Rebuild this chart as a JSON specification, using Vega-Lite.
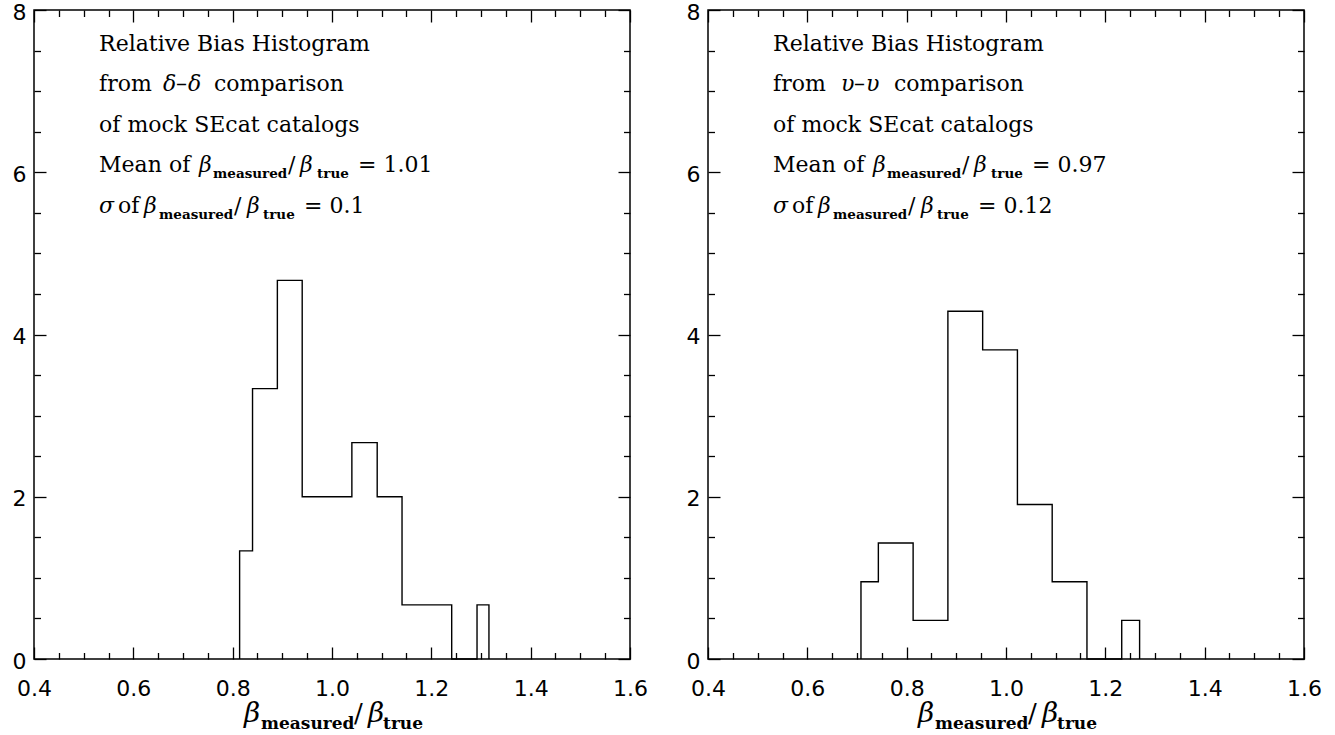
{
  "$schema": "https://vega.github.io/schema/vega-lite/v6.json",
  "padding": {"left": 8, "top": 0, "right": 0, "bottom": 0},
  "spacing": 33,
  "background": "white",
  "config": {
    "view": {"stroke": "#000", "strokeWidth": 1.5},
    "axis": {"grid": false, "domain": false, "tickColor": "#000", "tickWidth": 1.3, "title": null, "labelFont": "DejaVu Sans", "labelFontSize": 22, "labelColor": "#000", "labelFlush": false, "labelOverlap": false}
  },
  "datasets": {
    "histL": [
      {"x": 0.814, "y": 0}, {"x": 0.814, "y": 1.333}, {"x": 0.840, "y": 3.333}, {"x": 0.890, "y": 4.667},
      {"x": 0.940, "y": 2}, {"x": 0.990, "y": 2}, {"x": 1.040, "y": 2.667}, {"x": 1.091, "y": 2},
      {"x": 1.141, "y": 0.667}, {"x": 1.191, "y": 0.667}, {"x": 1.241, "y": 0}, {"x": 1.292, "y": 0.667},
      {"x": 1.316, "y": 0}
    ],
    "histR": [
      {"x": 0.708, "y": 0}, {"x": 0.708, "y": 0.952}, {"x": 0.743, "y": 1.429}, {"x": 0.813, "y": 0.476},
      {"x": 0.883, "y": 4.286}, {"x": 0.953, "y": 3.810}, {"x": 1.023, "y": 1.905}, {"x": 1.093, "y": 0.952},
      {"x": 1.163, "y": 0}, {"x": 1.233, "y": 0.476}, {"x": 1.269, "y": 0}
    ],
    "txtL": [
      {"x": 0.531, "y": 7.5, "t": "Relative Bias Histogram"},
      {"x": 0.531, "y": 7.0, "t": "from"},
      {"x": 0.686, "y": 7.0, "t": "–"},
      {"x": 0.7625, "y": 7.0, "t": "comparison"},
      {"x": 0.531, "y": 6.5, "t": "of mock SEcat catalogs"},
      {"x": 0.531, "y": 6.0, "t": "Mean of"},
      {"x": 0.9115, "y": 6.0, "t": "/"},
      {"x": 1.0524, "y": 6.0, "t": "= 1.01"},
      {"x": 0.5691, "y": 5.5, "t": "of"},
      {"x": 0.8027, "y": 5.5, "t": "/"},
      {"x": 0.9437, "y": 5.5, "t": "= 0.1"}
    ],
    "txtR": [
      {"x": 0.531, "y": 7.5, "t": "Relative Bias Histogram"},
      {"x": 0.531, "y": 7.0, "t": "from"},
      {"x": 0.694, "y": 7.0, "t": "–"},
      {"x": 0.7745, "y": 7.0, "t": "comparison"},
      {"x": 0.531, "y": 6.5, "t": "of mock SEcat catalogs"},
      {"x": 0.531, "y": 6.0, "t": "Mean of"},
      {"x": 0.9115, "y": 6.0, "t": "/"},
      {"x": 1.0524, "y": 6.0, "t": "= 0.97"},
      {"x": 0.5691, "y": 5.5, "t": "of"},
      {"x": 0.8027, "y": 5.5, "t": "/"},
      {"x": 0.9437, "y": 5.5, "t": "= 0.12"}
    ],
    "grkL": [
      {"x": 0.6598, "y": 7.0, "t": "δ"},
      {"x": 0.7101, "y": 7.0, "t": "δ"},
      {"x": 0.7323, "y": 6.0, "t": "β"},
      {"x": 0.9356, "y": 6.0, "t": "β"},
      {"x": 0.531, "y": 5.5, "t": "σ"},
      {"x": 0.6215, "y": 5.5, "t": "β"},
      {"x": 0.8289, "y": 5.5, "t": "β"}
    ],
    "grkR": [
      {"x": 0.6678, "y": 7.0, "t": "υ"},
      {"x": 0.7182, "y": 7.0, "t": "υ"},
      {"x": 0.7323, "y": 6.0, "t": "β"},
      {"x": 0.9356, "y": 6.0, "t": "β"},
      {"x": 0.531, "y": 5.5, "t": "σ"},
      {"x": 0.6215, "y": 5.5, "t": "β"},
      {"x": 0.8289, "y": 5.5, "t": "β"}
    ],
    "sub": [
      {"x": 0.7605, "y": 6.0, "t": "measured"},
      {"x": 0.9699, "y": 6.0, "t": "true"},
      {"x": 0.6517, "y": 5.5, "t": "measured"},
      {"x": 0.8611, "y": 5.5, "t": "true"}
    ],
    "ttlGrk": [
      {"x": 0.8229, "y": -0.78, "t": "β"},
      {"x": 1.0726, "y": -0.78, "t": "β"}
    ],
    "ttlSub": [
      {"x": 0.8571, "y": -0.78, "t": "measured"},
      {"x": 1.1028, "y": -0.78, "t": "true"}
    ],
    "ttlSlash": [
      {"x": 1.0444, "y": -0.78, "t": "/"}
    ]
  },
  "hconcat": [
    {
      "width": 596, "height": 649,
      "resolve": {"axis": {"x": "independent", "y": "independent"}},
      "layer": [
        {
          "data": {"name": "histL"},
          "mark": {"type": "line", "interpolate": "step-after", "color": "#000", "strokeWidth": 1.4},
          "encoding": {
            "x": {"field": "x", "type": "quantitative", "scale": {"domain": [0.4, 1.6], "nice": false, "zero": false},
              "axis": {"orient": "bottom", "values": [0.4, 0.6, 0.8, 1.0, 1.2, 1.4, 1.6], "format": ".1f", "tickSize": -12, "labelPadding": 31.5, "minExtent": 0, "maxExtent": 60}},
            "y": {"field": "y", "type": "quantitative", "scale": {"domain": [0, 8], "nice": false, "zero": false},
              "axis": {"orient": "left", "values": [0, 2, 4, 6, 8], "format": "d", "tickSize": -12, "labelPadding": 20, "labelOffset": 2, "minExtent": 25, "maxExtent": 25}},
            "order": {"value": null}
          }
        },
        {
          "data": {"name": "txtL"},
          "mark": {"type": "text", "align": "left", "baseline": "alphabetic", "font": "DejaVu Serif", "fontSize": 22, "color": "#000"},
          "encoding": {
            "x": {"field": "x", "type": "quantitative", "scale": {"domain": [0.4, 1.6], "nice": false, "zero": false},
              "axis": {"orient": "bottom", "values": [0.45, 0.5, 0.55, 0.65, 0.7, 0.75, 0.85, 0.9, 0.95, 1.05, 1.1, 1.15, 1.25, 1.3, 1.35, 1.45, 1.5, 1.55], "labels": false, "tickSize": -6.5, "minExtent": 0, "maxExtent": 0}},
            "y": {"field": "y", "type": "quantitative", "scale": {"domain": [0, 8], "nice": false, "zero": false},
              "axis": {"orient": "left", "values": [0.5, 1, 1.5, 2.5, 3, 3.5, 4.5, 5, 5.5, 6.5, 7, 7.5], "labels": false, "tickSize": -6.5, "minExtent": 0, "maxExtent": 0}},
            "text": {"field": "t"}
          }
        },
        {
          "data": {"name": "grkL"},
          "mark": {"type": "text", "align": "left", "baseline": "alphabetic", "font": "DejaVu Serif", "fontStyle": "italic", "fontSize": 22, "color": "#000"},
          "encoding": {
            "x": {"field": "x", "type": "quantitative", "scale": {"domain": [0.4, 1.6], "nice": false, "zero": false},
              "axis": {"orient": "top", "values": [0.4, 0.6, 0.8, 1.0, 1.2, 1.4, 1.6], "labels": false, "tickSize": -12, "minExtent": 0, "maxExtent": 0}},
            "y": {"field": "y", "type": "quantitative", "scale": {"domain": [0, 8], "nice": false, "zero": false},
              "axis": {"orient": "right", "values": [0, 2, 4, 6, 8], "labels": false, "tickSize": -12, "minExtent": 0, "maxExtent": 0}},
            "text": {"field": "t"}
          }
        },
        {
          "data": {"name": "sub"},
          "mark": {"type": "text", "align": "left", "baseline": "alphabetic", "font": "DejaVu Serif", "fontWeight": "bold", "fontSize": 13.5, "dy": 6, "color": "#000"},
          "encoding": {
            "x": {"field": "x", "type": "quantitative", "scale": {"domain": [0.4, 1.6], "nice": false, "zero": false},
              "axis": {"orient": "top", "values": [0.45, 0.5, 0.55, 0.65, 0.7, 0.75, 0.85, 0.9, 0.95, 1.05, 1.1, 1.15, 1.25, 1.3, 1.35, 1.45, 1.5, 1.55], "labels": false, "tickSize": -6.5, "minExtent": 0, "maxExtent": 0}},
            "y": {"field": "y", "type": "quantitative", "scale": {"domain": [0, 8], "nice": false, "zero": false},
              "axis": {"orient": "right", "values": [0.5, 1, 1.5, 2.5, 3, 3.5, 4.5, 5, 5.5, 6.5, 7, 7.5], "labels": false, "tickSize": -6.5, "minExtent": 0, "maxExtent": 0}},
            "text": {"field": "t"}
          }
        },
        {
          "data": {"name": "ttlGrk"},
          "mark": {"type": "text", "align": "left", "baseline": "alphabetic", "font": "DejaVu Serif", "fontStyle": "italic", "fontSize": 28, "color": "#000"},
          "encoding": {
            "x": {"field": "x", "type": "quantitative", "axis": null},
            "y": {"field": "y", "type": "quantitative", "axis": null},
            "text": {"field": "t"}
          }
        },
        {
          "data": {"name": "ttlSub"},
          "mark": {"type": "text", "align": "left", "baseline": "alphabetic", "font": "DejaVu Serif", "fontWeight": "bold", "fontSize": 17, "dy": 7, "color": "#000"},
          "encoding": {
            "x": {"field": "x", "type": "quantitative", "axis": null},
            "y": {"field": "y", "type": "quantitative", "axis": null},
            "text": {"field": "t"}
          }
        },
        {
          "data": {"name": "ttlSlash"},
          "mark": {"type": "text", "align": "left", "baseline": "alphabetic", "font": "DejaVu Serif", "fontSize": 26, "color": "#000"},
          "encoding": {
            "x": {"field": "x", "type": "quantitative", "axis": null},
            "y": {"field": "y", "type": "quantitative", "axis": null},
            "text": {"field": "t"}
          }
        }
      ]
    },
    {
      "width": 596, "height": 649,
      "resolve": {"axis": {"x": "independent", "y": "independent"}},
      "layer": [
        {
          "data": {"name": "histR"},
          "mark": {"type": "line", "interpolate": "step-after", "color": "#000", "strokeWidth": 1.4},
          "encoding": {
            "x": {"field": "x", "type": "quantitative", "scale": {"domain": [0.4, 1.6], "nice": false, "zero": false},
              "axis": {"orient": "bottom", "values": [0.4, 0.6, 0.8, 1.0, 1.2, 1.4, 1.6], "format": ".1f", "tickSize": -12, "labelPadding": 31.5, "minExtent": 0, "maxExtent": 60}},
            "y": {"field": "y", "type": "quantitative", "scale": {"domain": [0, 8], "nice": false, "zero": false},
              "axis": {"orient": "left", "values": [0, 2, 4, 6, 8], "format": "d", "tickSize": -12, "labelPadding": 20, "labelOffset": 2, "minExtent": 25, "maxExtent": 25}},
            "order": {"value": null}
          }
        },
        {
          "data": {"name": "txtR"},
          "mark": {"type": "text", "align": "left", "baseline": "alphabetic", "font": "DejaVu Serif", "fontSize": 22, "color": "#000"},
          "encoding": {
            "x": {"field": "x", "type": "quantitative", "scale": {"domain": [0.4, 1.6], "nice": false, "zero": false},
              "axis": {"orient": "bottom", "values": [0.45, 0.5, 0.55, 0.65, 0.7, 0.75, 0.85, 0.9, 0.95, 1.05, 1.1, 1.15, 1.25, 1.3, 1.35, 1.45, 1.5, 1.55], "labels": false, "tickSize": -6.5, "minExtent": 0, "maxExtent": 0}},
            "y": {"field": "y", "type": "quantitative", "scale": {"domain": [0, 8], "nice": false, "zero": false},
              "axis": {"orient": "left", "values": [0.5, 1, 1.5, 2.5, 3, 3.5, 4.5, 5, 5.5, 6.5, 7, 7.5], "labels": false, "tickSize": -6.5, "minExtent": 0, "maxExtent": 0}},
            "text": {"field": "t"}
          }
        },
        {
          "data": {"name": "grkR"},
          "mark": {"type": "text", "align": "left", "baseline": "alphabetic", "font": "DejaVu Serif", "fontStyle": "italic", "fontSize": 22, "color": "#000"},
          "encoding": {
            "x": {"field": "x", "type": "quantitative", "scale": {"domain": [0.4, 1.6], "nice": false, "zero": false},
              "axis": {"orient": "top", "values": [0.4, 0.6, 0.8, 1.0, 1.2, 1.4, 1.6], "labels": false, "tickSize": -12, "minExtent": 0, "maxExtent": 0}},
            "y": {"field": "y", "type": "quantitative", "scale": {"domain": [0, 8], "nice": false, "zero": false},
              "axis": {"orient": "right", "values": [0, 2, 4, 6, 8], "labels": false, "tickSize": -12, "minExtent": 0, "maxExtent": 0}},
            "text": {"field": "t"}
          }
        },
        {
          "data": {"name": "sub"},
          "mark": {"type": "text", "align": "left", "baseline": "alphabetic", "font": "DejaVu Serif", "fontWeight": "bold", "fontSize": 13.5, "dy": 6, "color": "#000"},
          "encoding": {
            "x": {"field": "x", "type": "quantitative", "scale": {"domain": [0.4, 1.6], "nice": false, "zero": false},
              "axis": {"orient": "top", "values": [0.45, 0.5, 0.55, 0.65, 0.7, 0.75, 0.85, 0.9, 0.95, 1.05, 1.1, 1.15, 1.25, 1.3, 1.35, 1.45, 1.5, 1.55], "labels": false, "tickSize": -6.5, "minExtent": 0, "maxExtent": 0}},
            "y": {"field": "y", "type": "quantitative", "scale": {"domain": [0, 8], "nice": false, "zero": false},
              "axis": {"orient": "right", "values": [0.5, 1, 1.5, 2.5, 3, 3.5, 4.5, 5, 5.5, 6.5, 7, 7.5], "labels": false, "tickSize": -6.5, "minExtent": 0, "maxExtent": 0}},
            "text": {"field": "t"}
          }
        },
        {
          "data": {"name": "ttlGrk"},
          "mark": {"type": "text", "align": "left", "baseline": "alphabetic", "font": "DejaVu Serif", "fontStyle": "italic", "fontSize": 28, "color": "#000"},
          "encoding": {
            "x": {"field": "x", "type": "quantitative", "axis": null},
            "y": {"field": "y", "type": "quantitative", "axis": null},
            "text": {"field": "t"}
          }
        },
        {
          "data": {"name": "ttlSub"},
          "mark": {"type": "text", "align": "left", "baseline": "alphabetic", "font": "DejaVu Serif", "fontWeight": "bold", "fontSize": 17, "dy": 7, "color": "#000"},
          "encoding": {
            "x": {"field": "x", "type": "quantitative", "axis": null},
            "y": {"field": "y", "type": "quantitative", "axis": null},
            "text": {"field": "t"}
          }
        },
        {
          "data": {"name": "ttlSlash"},
          "mark": {"type": "text", "align": "left", "baseline": "alphabetic", "font": "DejaVu Serif", "fontSize": 26, "color": "#000"},
          "encoding": {
            "x": {"field": "x", "type": "quantitative", "axis": null},
            "y": {"field": "y", "type": "quantitative", "axis": null},
            "text": {"field": "t"}
          }
        }
      ]
    }
  ]
}
